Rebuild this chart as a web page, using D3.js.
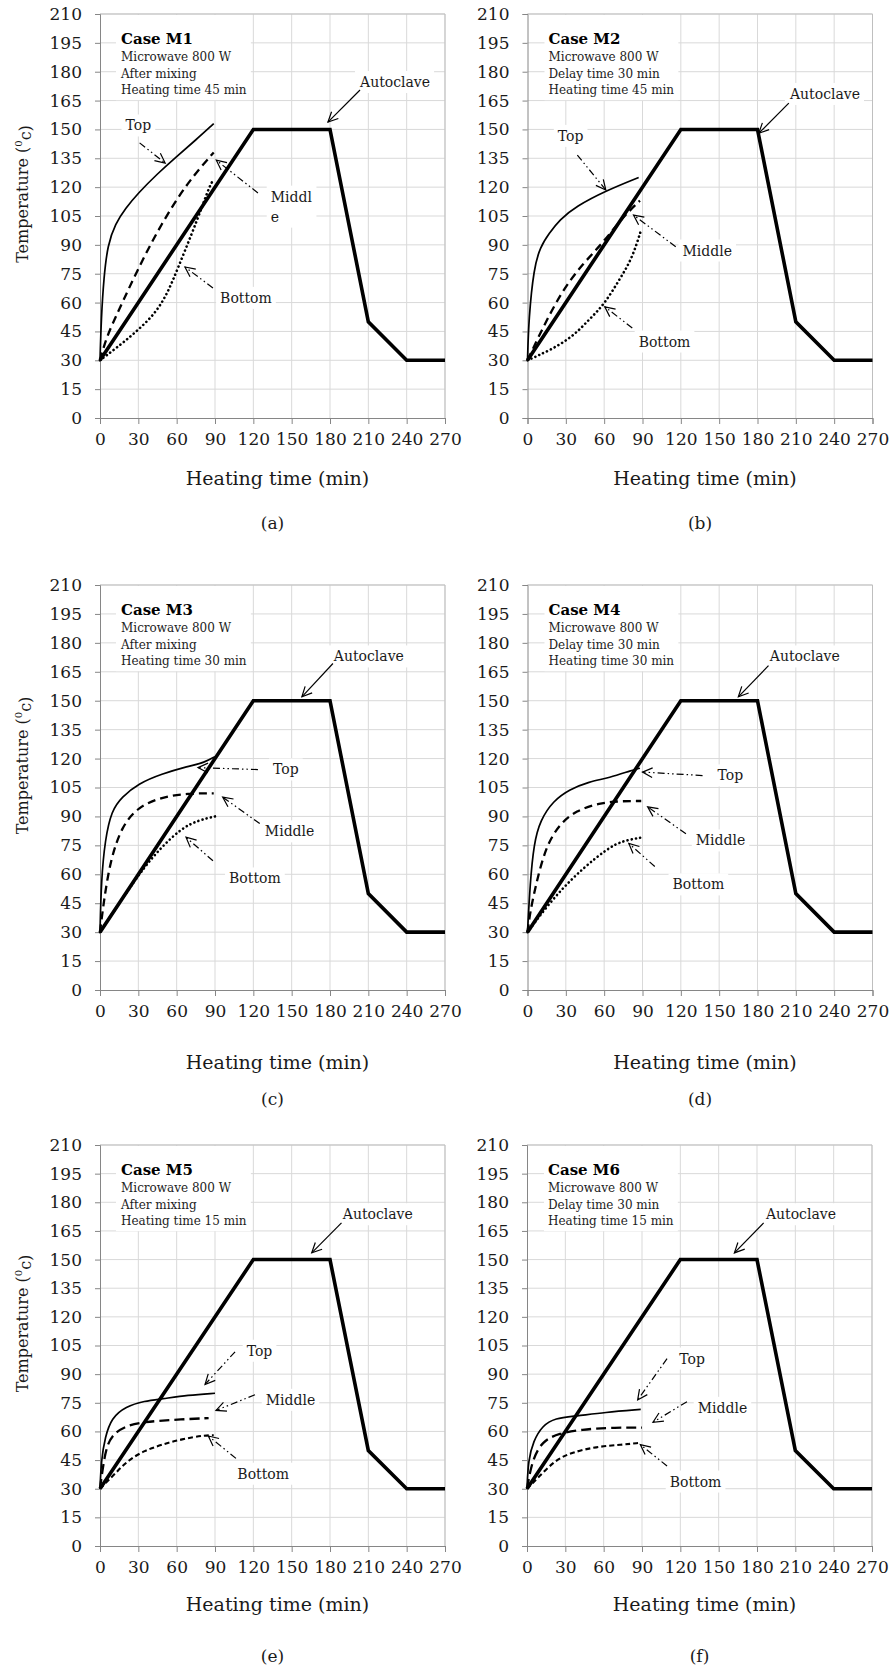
<!DOCTYPE html>
<html>
<head>
<meta charset="utf-8">
<script src="https://cdn.jsdelivr.net/npm/d3@7"></script>
<style>
  body { margin: 0; background: #fff; }
  svg { display: block; font-family: "DejaVu Serif", serif; }
</style>
</head>
<body>
<svg id="fig" width="892" height="1673"></svg>
<script>
// tick labels
var xTicks = [0, 30, 60, 90, 120, 150, 180, 210, 240, 270];
var yTicks = [0, 15, 30, 45, 60, 75, 90, 105, 120, 135, 150, 165, 180, 195, 210];

// autoclave cycle, same in every case
var autoclave = [[0, 30], [120, 150], [180, 150], [210, 50], [240, 30], [270, 30]];

// probe readings [min, degC]
var topM1 = [[0, 30], [1, 52], [3, 73], [6, 90], [12, 101], [20, 109], [30, 117], [45, 127], [60, 136], [75, 144.5], [89, 153]];
var midM1 = [[0, 30], [5, 42], [14, 55], [30, 78], [48, 101], [69, 123], [89, 138]];
var botM1 = [[0, 30], [12, 36], [27, 44], [43, 54], [53, 65], [61, 78], [72, 96], [80, 110], [86, 121], [89, 124]];

var topM2 = [[0, 30], [1, 52], [5, 78], [10, 89], [17, 96], [25, 103], [38, 110], [61, 118], [87, 125]];
var midM2 = [[0, 30], [12, 47], [27, 66], [43, 80], [59, 91], [74, 104], [88, 113]];
var botM2 = [[0, 30], [17, 35], [35, 42], [48, 51], [60, 59], [72, 72], [82, 83], [89, 98]];

var topM3 = [[0, 30], [1, 57], [4, 78], [9, 93], [17, 100], [30, 107], [48, 112], [69, 116], [82, 118], [90, 121]];
var midM3 = [[0, 30], [3, 46], [8, 67], [17, 85], [30, 95], [48, 100], [69, 102], [89, 102]];
var botM3 = [[0, 30], [20, 50], [35, 64], [48, 74], [64, 84], [77, 88], [90, 90]];

var topM4 = [[0, 30], [2, 55], [5, 76], [10, 88], [20, 98], [33, 104], [48, 108], [64, 110], [82, 114], [88, 115]];
var midM4 = [[0, 30], [2, 40], [6, 53], [14, 74], [25, 86], [38, 93], [56, 97], [74, 98], [89, 98]];
var botM4 = [[0, 30], [17, 45], [35, 58], [54, 69], [69, 76], [80, 78], [89, 79]];

var topM5 = [[0, 30], [1, 45], [4, 57], [9, 67], [20, 73], [35, 76], [48, 77], [69, 79], [90, 80]];
var midM5 = [[0, 30], [4, 50], [9, 58], [20, 63], [35, 65], [54, 66], [85, 67]];
var botM5 = [[0, 30], [12, 38], [22, 45], [35, 50], [48, 53], [64, 56], [82, 58], [89, 58]];

var topM6 = [[0, 30], [1, 45], [5, 55], [12, 63], [22, 67], [38, 68], [61, 70], [89, 71.5]];
var midM6 = [[0, 30], [4, 45], [12, 55], [25, 59], [43, 61], [64, 62], [90, 62]];
var botM6 = [[0, 30], [9, 36], [22, 45], [35, 49], [54, 52], [74, 53], [88, 54]];

var caseNames = ["Case M1", "Case M2", "Case M3", "Case M4", "Case M5", "Case M6"];
var powerText = "Microwave 800 W";
var mixText = ["After mixing", "Delay time 30 min", "After mixing", "Delay time 30 min", "After mixing", "Delay time 30 min"];
var heatText = ["Heating time 45 min", "Heating time 45 min", "Heating time 30 min", "Heating time 30 min", "Heating time 15 min", "Heating time 15 min"];
var subLabels = ["(a)", "(b)", "(c)", "(d)", "(e)", "(f)"];

// callouts: text anchor, arrow tail and tip, all in data units
var notes = [
  [
    {text: ["Top"], at: [20, 152], from: [31, 143], to: [51, 132.5]},
    {text: ["Middl", "e"], at: [133.6, 115], from: [123.6, 117], to: [91, 134]},
    {text: ["Bottom"], at: [94, 62.4], from: [88.4, 67.6], to: [66.5, 78.5]},
    {text: ["Autoclave"], at: [203.5, 174.6], from: [203.5, 170.5], to: [178.4, 153.8], solid: true}
  ],
  [
    {text: ["Top"], at: [23.7, 146.6], from: [39, 136.7], to: [61.3, 118.5]},
    {text: ["Middle"], at: [121.3, 87], from: [116, 89], to: [83, 105.5]},
    {text: ["Bottom"], at: [87, 39.7], from: [82, 46.8], to: [60.5, 57.8]},
    {text: ["Autoclave"], at: [205.4, 168.4], from: [204.5, 163.7], to: [181, 148], solid: true}
  ],
  [
    {text: ["Top"], at: [135.4, 114.3], from: [123.6, 114.3], to: [76.7, 115.3]},
    {text: ["Middle"], at: [129, 82.2], from: [125, 86.3], to: [96, 100]},
    {text: ["Bottom"], at: [101, 57.8], from: [88.4, 67], to: [67.3, 79.2]},
    {text: ["Autoclave"], at: [183, 172.9], from: [182.3, 169.3], to: [158, 152], solid: true}
  ],
  [
    {text: ["Top"], at: [148.7, 111.2], from: [137, 111.2], to: [90, 113]},
    {text: ["Middle"], at: [131.7, 77.5], from: [124, 81], to: [94, 95]},
    {text: ["Bottom"], at: [113.5, 54.7], from: [99.6, 64], to: [79.3, 76]},
    {text: ["Autoclave"], at: [189.6, 172.9], from: [188.6, 168.2], to: [165, 152], solid: true}
  ],
  [
    {text: ["Top"], at: [114.8, 102.2], from: [105.7, 101.7], to: [82.2, 84.6]},
    {text: ["Middle"], at: [129.7, 76.5], from: [121.3, 79.2], to: [90.8, 71]},
    {text: ["Bottom"], at: [107.5, 37.8], from: [106.4, 45.9], to: [84.8, 57.6]},
    {text: ["Autoclave"], at: [190, 173.7], from: [189, 169.2], to: [165.7, 153.5], solid: true}
  ],
  [
    {text: ["Top"], at: [119.2, 98.1], from: [109.6, 98.1], to: [86.6, 76.5]},
    {text: ["Middle"], at: [133.6, 72.3], from: [125.2, 75.6], to: [98.6, 64.8]},
    {text: ["Bottom"], at: [111.7, 33.7], from: [109.6, 41.9], to: [88.7, 53.1]},
    {text: ["Autoclave"], at: [187, 173.7], from: [185.2, 169.2], to: [162.3, 153.5], solid: true}
  ]
];

var series = [
  [topM1, midM1, botM1], [topM2, midM2, botM2], [topM3, midM3, botM3],
  [topM4, midM4, botM4], [topM5, midM5, botM5], [topM6, midM6, botM6]
];

// panel frames in page pixels
var panels = [
  {left: 100, top: 14, bottom: 418, titleGap: 60, subGap: 105, yTitle: true},
  {left: 527.5, top: 14, bottom: 418, titleGap: 60, subGap: 105, yTitle: false},
  {left: 100, top: 585, bottom: 990, titleGap: 72, subGap: 109, yTitle: true},
  {left: 527.5, top: 585, bottom: 990, titleGap: 72, subGap: 109, yTitle: false},
  {left: 100, top: 1145, bottom: 1546, titleGap: 58, subGap: 110, yTitle: true, shortBottom: true},
  {left: 527, top: 1145, bottom: 1546, titleGap: 58, subGap: 110, yTitle: false, shortBottom: true}
];
var plotWidth = 345;

var svg = d3.select("#fig");

var probeLine = d3.line().curve(d3.curveBasis);
var straight = d3.line();

function arrowHead(x1, y1, x2, y2, len, ang) {
  var a = Math.atan2(y2 - y1, x2 - x1);
  return "M" + (x2 - len * Math.cos(a - ang)) + "," + (y2 - len * Math.sin(a - ang)) +
    "L" + x2 + "," + y2 +
    "L" + (x2 - len * Math.cos(a + ang)) + "," + (y2 - len * Math.sin(a + ang));
}

panels.forEach(function (p, i) {
  var x = d3.scaleLinear().domain([0, 270]).range([p.left, p.left + plotWidth]);
  var y = d3.scaleLinear().domain([0, 210]).range([p.bottom, p.top]);
  var g = svg.append("g");

  // grid
  g.append("g").selectAll("line").data(yTicks.slice(1)).enter().append("line")
    .attr("x1", x(0)).attr("x2", x(270))
    .attr("y1", function (d) { return y(d); }).attr("y2", function (d) { return y(d); })
    .attr("stroke", "#d9d9d9").attr("stroke-width", 1);
  g.append("g").selectAll("line").data(xTicks.slice(1)).enter().append("line")
    .attr("y1", y(0)).attr("y2", y(210))
    .attr("x1", function (d) { return x(d); }).attr("x2", function (d) { return x(d); })
    .attr("stroke", "#d9d9d9").attr("stroke-width", 1);
  g.append("line").attr("x1", x(0)).attr("x2", x(270)).attr("y1", y(210)).attr("y2", y(210))
    .attr("stroke", "#bfbfbf");
  g.append("line").attr("x1", x(270)).attr("x2", x(270)).attr("y1", y(0)).attr("y2", y(210))
    .attr("stroke", "#bfbfbf");

  // axes
  var xAxis = g.append("g").attr("transform", "translate(0," + y(0) + ")")
    .call(d3.axisBottom(x).tickValues(xTicks).tickSize(6).tickPadding(9));
  var yAxis = g.append("g").attr("transform", "translate(" + x(0) + ",0)")
    .call(d3.axisLeft(y).tickValues(yTicks).tickSize(5).tickPadding(13));
  [xAxis, yAxis].forEach(function (ax) {
    ax.select(".domain").attr("stroke", "#868686");
    ax.selectAll(".tick line").attr("stroke", "#868686");
    ax.selectAll(".tick text").attr("font-family", "DejaVu Serif").attr("font-size", 17).attr("fill", "#1a1a1a");
  });

  // curves
  var s = series[i];
  g.append("path").attr("d", probeLine(s[0].map(function (d) { return [x(d[0]), y(d[1])]; })))
    .attr("fill", "none").attr("stroke", "#000").attr("stroke-width", 1.7);
  g.append("path").attr("d", probeLine(s[1].map(function (d) { return [x(d[0]), y(d[1])]; })))
    .attr("fill", "none").attr("stroke", "#000").attr("stroke-width", 2.3)
    .attr("stroke-dasharray", p.shortBottom ? "10,5" : "8,5");
  var bot = g.append("path").attr("d", probeLine(s[2].map(function (d) { return [x(d[0]), y(d[1])]; })))
    .attr("fill", "none").attr("stroke", "#000");
  if (p.shortBottom) {
    bot.attr("stroke-width", 2.1).attr("stroke-dasharray", "5,3");
  } else {
    bot.attr("stroke-width", 2.6).attr("stroke-dasharray", "0.1,4.2").attr("stroke-linecap", "round");
  }
  g.append("path").attr("d", straight(autoclave.map(function (d) { return [x(d[0]), y(d[1])]; })))
    .attr("fill", "none").attr("stroke", "#000").attr("stroke-width", 3.6)
    .attr("stroke-linejoin", "miter");

  // case text block
  var block = g.append("g");
  var bx = x(0) + 21;
  block.append("text").attr("x", bx).attr("y", p.top + 25).attr("dy", "0.35em")
    .attr("font-weight", "bold").attr("font-size", 15).text(caseNames[i]);
  [powerText, mixText[i], heatText[i]].forEach(function (t, k) {
    block.append("text").attr("x", bx).attr("y", p.top + 43 + k * 16.5).attr("dy", "0.35em")
      .attr("font-size", 12).attr("fill", "#222").text(t);
  });
  var bb = block.node().getBBox();
  block.insert("rect", "text").attr("x", bb.x - 4).attr("y", p.top + 1)
    .attr("width", bb.width + 8).attr("height", bb.y + bb.height + 3 - p.top - 1).attr("fill", "#fff");

  // callouts
  notes[i].forEach(function (n) {
    var lab = g.append("g");
    n.text.forEach(function (t, k) {
      lab.append("text").attr("x", x(n.at[0])).attr("y", y(n.at[1]) + k * 20).attr("dy", "0.35em")
        .attr("font-size", 14).attr("fill", "#1a1a1a").text(t);
    });
    var lb = lab.node().getBBox();
    lab.insert("rect", "text").attr("x", lb.x - 4).attr("y", lb.y - 3)
      .attr("width", lb.width + 8).attr("height", lb.height + 6).attr("fill", "#fff");
    var x1 = x(n.from[0]), y1 = y(n.from[1]), x2 = x(n.to[0]), y2 = y(n.to[1]);
    g.append("line").attr("x1", x1).attr("y1", y1).attr("x2", x2).attr("y2", y2)
      .attr("stroke", "#000").attr("stroke-width", 1.2)
      .attr("stroke-dasharray", n.solid ? null : "7,3,1.5,3,1.5,3");
    g.append("path").attr("d", arrowHead(x1, y1, x2, y2, 11, 0.45))
      .attr("fill", "none").attr("stroke", "#000").attr("stroke-width", 1.2);
  });

  // axis titles and panel label
  var cx = x(135) + 5;
  g.append("text").attr("x", cx).attr("y", y(0) + p.titleGap).attr("dy", "0.35em")
    .attr("text-anchor", "middle").attr("font-size", 19).attr("fill", "#1a1a1a").text("Heating time (min)");
  g.append("text").attr("x", x(135)).attr("y", y(0) + p.subGap).attr("dy", "0.35em")
    .attr("text-anchor", "middle").attr("font-size", 17).attr("fill", "#1a1a1a").text(subLabels[i]);
  if (p.yTitle) {
    var yt = g.append("text").attr("transform", "translate(22," + ((p.top + p.bottom) / 2 - 22) + ") rotate(-90)")
      .attr("text-anchor", "middle").attr("dy", "0.35em").attr("font-size", 16).attr("fill", "#1a1a1a");
    yt.append("tspan").text("Temperature (");
    yt.append("tspan").attr("font-size", 10).attr("dy", "-0.6em").text("0");
    yt.append("tspan").attr("dy", "0.6em").text("c)");
  }
});
</script>
</body>
</html>
